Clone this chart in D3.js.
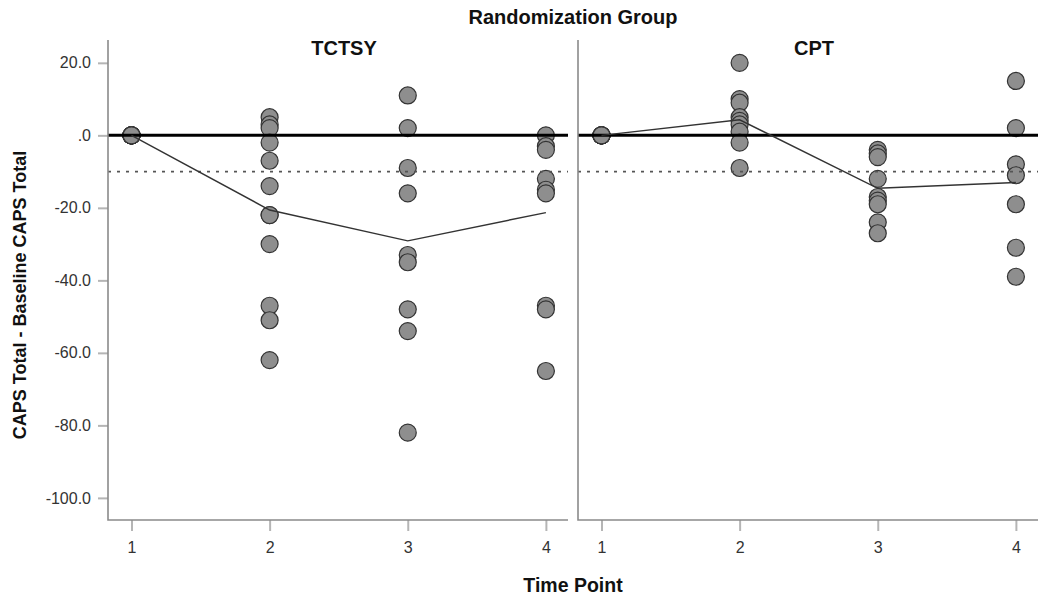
<!DOCTYPE html>
<html>
<head>
<meta charset="utf-8">
<script src="https://cdn.jsdelivr.net/npm/d3@7"></script>
<style>
  html, body { margin: 0; padding: 0; background: #fff; }
  svg { display: block; font-family: "Liberation Sans", Arial, sans-serif; }
</style>
</head>
<body>
<svg id="chart" width="1050" height="603"></svg>
<script>
// ---- Data ----
const groups = ["TCTSY", "CPT"];
const timePoints = [1, 2, 3, 4];
const yTicks = [20, 0, -20, -40, -60, -80, -100];

// individual change scores per time point
const tctsyValues = [
  [0, 0, 0, 0, 0, 0, 0, 0, 0, 0, 0, 0],
  [5, 3, 2, -2, -7, -14, -22, -22, -30, -47, -51, -62],
  [11, 2, -9, -16, -33, -35, -48, -54, -82],
  [0, -3, -4, -12, -15, -16, -47, -48, -65]
];
const cptValues = [
  [0, 0, 0, 0, 0, 0, 0, 0, 0],
  [20, 10, 9, 5, 4, 3, 1, -2, -9],
  [-4, -5, -6, -12, -17, -18, -19, -24, -27],
  [15, 2, -8, -11, -19, -31, -39]
];
// group mean line
const tctsyMeans = [0, -20.6, -29.1, -21.3];
const cptMeans = [0, 4.3, -14.6, -13.0];

const refSolid = 0;
const refDotted = -10;

(function () {
// ---- Layout ----
const svg = d3.select("#chart");
const plotTop = 40, plotBottom = 520;
const panels = [
  { name: groups[0], x0: 108, x1: 568, values: tctsyValues, means: tctsyMeans, showY: true },
  { name: groups[1], x0: 578, x1: 1038, values: cptValues, means: cptMeans, showY: false }
];

const y = d3.scaleLinear().domain([-106.1, 26.3]).range([plotBottom, plotTop]);

const axisColor = "#8a8a8a";
const tickColor = "#b5b5b5";
const textColor = "#333";

panels.forEach(p => {
  const x = d3.scaleLinear().domain([0.83, 4.16]).range([p.x0, p.x1]);
  const g = svg.append("g");

  // points
  const pts = [];
  p.values.forEach((vals, i) => vals.forEach(v => pts.push({ t: timePoints[i], v })));
  g.selectAll("circle").data(pts).enter().append("circle")
    .attr("cx", d => x(d.t))
    .attr("cy", d => y(d.v))
    .attr("r", 8.5)
    .attr("fill", "#8e8e8e")
    .attr("stroke", "#333")
    .attr("stroke-width", 1.2);

  // reference lines
  g.append("line")
    .attr("x1", p.x0).attr("x2", p.x1)
    .attr("y1", y(refSolid)).attr("y2", y(refSolid))
    .attr("stroke", "#000").attr("stroke-width", 3);
  g.append("line")
    .attr("x1", p.x0).attr("x2", p.x1)
    .attr("y1", y(refDotted)).attr("y2", y(refDotted))
    .attr("stroke", "#555").attr("stroke-width", 1.6)
    .attr("stroke-dasharray", "3,6");

  // mean line
  const line = d3.line().x((d, i) => x(timePoints[i])).y(d => y(d));
  g.append("path").datum(p.means)
    .attr("d", line)
    .attr("fill", "none")
    .attr("stroke", "#333")
    .attr("stroke-width", 1.4);

  // x axis
  const xAxis = d3.axisBottom(x).tickValues(timePoints).tickSize(11).tickPadding(11).tickFormat(d => String(d));
  const xg = g.append("g").attr("transform", `translate(0,${plotBottom})`).call(xAxis);
  xg.select(".domain").remove();
  xg.selectAll(".tick line").attr("stroke", tickColor).attr("stroke-width", 2);
  xg.selectAll(".tick text").attr("fill", textColor).attr("font-size", 16)
    .attr("font-family", "Liberation Sans, Arial, sans-serif");

  // y axis (left panel only shows labels)
  if (p.showY) {
    const yAxis = d3.axisLeft(y).tickValues(yTicks).tickSize(10).tickPadding(7)
      .tickFormat(d => d === 0 ? ".0" : d.toFixed(1));
    const yg = g.append("g").attr("transform", `translate(${p.x0},0)`).call(yAxis);
    yg.select(".domain").remove();
    yg.selectAll(".tick line").attr("stroke", tickColor).attr("stroke-width", 2);
    yg.selectAll(".tick text").attr("fill", textColor).attr("font-size", 16)
      .attr("font-family", "Liberation Sans, Arial, sans-serif");
  }

  // panel frame (left and bottom)
  g.append("path")
    .attr("d", `M${p.x0},${plotTop}V${plotBottom}H${p.x1}`)
    .attr("fill", "none").attr("stroke", axisColor).attr("stroke-width", 1.6);

  // panel title
  g.append("text")
    .attr("x", (p.x0 + p.x1) / 2 + 6).attr("y", 55)
    .attr("text-anchor", "middle")
    .attr("font-size", 20).attr("font-weight", "bold").attr("fill", "#111")
    .text(p.name);
});

// overall titles
svg.append("text")
  .attr("x", 573).attr("y", 24)
  .attr("text-anchor", "middle")
  .attr("font-size", 20).attr("font-weight", "bold").attr("fill", "#111")
  .text("Randomization Group");

svg.append("text")
  .attr("x", 573).attr("y", 592)
  .attr("text-anchor", "middle")
  .attr("font-size", 19.5).attr("font-weight", "bold").attr("fill", "#111")
  .text("Time Point");

svg.append("text")
  .attr("transform", "translate(26,295) rotate(-90)")
  .attr("text-anchor", "middle")
  .attr("font-size", 18).attr("font-weight", "bold").attr("fill", "#111")
  .text("CAPS Total - Baseline CAPS Total");
})();
</script>
</body>
</html>
